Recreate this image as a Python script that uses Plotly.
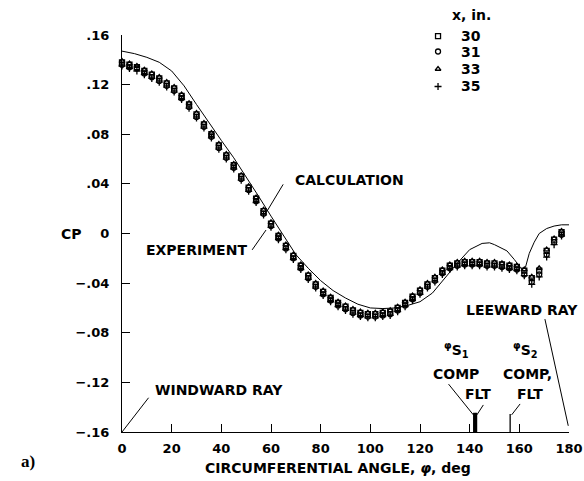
import plotly.graph_objects as go

# ---------------- data ----------------
calc_angle = [0, 5, 10, 15, 20, 25, 30, 35, 40, 45, 50, 55, 60, 65, 70, 75, 80, 85, 90, 95,
              100, 105, 110, 115, 120, 125, 130, 135, 140, 145, 148, 150, 155, 158, 161,
              162.5, 164, 166, 168, 171, 174, 177, 180]
calc_cp = [0.147, 0.145, 0.142, 0.138, 0.131, 0.119, 0.104, 0.089, 0.075, 0.061, 0.046,
           0.030, 0.014, -0.002, -0.017, -0.028, -0.038, -0.046, -0.052, -0.057,
           -0.060, -0.0605, -0.060, -0.058, -0.055, -0.048, -0.036, -0.024, -0.013,
           -0.008, -0.0075, -0.009, -0.014, -0.021, -0.029,
           -0.027, -0.016, -0.007, 0.000, 0.004, 0.006, 0.007, 0.007]

exp_angle = [0, 3, 6, 9, 12, 15, 18, 21, 24, 27, 30, 33, 36, 39, 42, 45, 48, 51, 54, 57,
             60, 63, 66, 69, 72, 75, 78, 81, 84, 87, 90, 93, 96, 99, 102, 105, 108, 111,
             114, 117, 120, 123, 126, 129, 132, 135, 138, 141, 144, 147, 150, 153, 156,
             159, 162, 165, 168, 171, 174, 177]

cp_x30 = [0.138, 0.136, 0.134, 0.131, 0.128, 0.125, 0.121, 0.117, 0.111, 0.104, 0.096,
          0.088, 0.080, 0.071, 0.063, 0.055, 0.046, 0.037, 0.028, 0.018, 0.008, -0.002,
          -0.010, -0.018, -0.026, -0.034, -0.041, -0.047, -0.052, -0.056, -0.059, -0.062,
          -0.064, -0.065, -0.065, -0.064, -0.063, -0.060, -0.056, -0.051, -0.046, -0.041,
          -0.036, -0.030, -0.026, -0.024, -0.023, -0.023, -0.023, -0.024, -0.024, -0.025,
          -0.026, -0.027, -0.030, -0.036, -0.030, -0.014, -0.005, 0.001]
cp_x31 = [0.136, 0.134, 0.133, 0.129, 0.126, 0.123, 0.119, 0.115, 0.109, 0.102, 0.094,
          0.086, 0.078, 0.069, 0.061, 0.053, 0.044, 0.035, 0.026, 0.016, 0.006, -0.004,
          -0.012, -0.020, -0.028, -0.036, -0.043, -0.049, -0.054, -0.058, -0.061, -0.064,
          -0.066, -0.067, -0.067, -0.066, -0.065, -0.062, -0.058, -0.053, -0.048, -0.043,
          -0.038, -0.032, -0.028, -0.026, -0.025, -0.025, -0.025, -0.026, -0.026, -0.027,
          -0.028, -0.029, -0.033, -0.039, -0.033, -0.017, -0.007, -0.001]
cp_x33 = [0.139, 0.137, 0.135, 0.132, 0.129, 0.126, 0.122, 0.118, 0.112, 0.105, 0.097,
          0.089, 0.081, 0.072, 0.064, 0.056, 0.047, 0.038, 0.029, 0.019, 0.009, -0.001,
          -0.009, -0.017, -0.025, -0.033, -0.040, -0.046, -0.051, -0.055, -0.058, -0.061,
          -0.063, -0.064, -0.064, -0.063, -0.062, -0.059, -0.055, -0.050, -0.045, -0.040,
          -0.035, -0.029, -0.025, -0.023, -0.022, -0.022, -0.022, -0.023, -0.023, -0.024,
          -0.025, -0.026, -0.029, -0.035, -0.028, -0.013, -0.004, 0.002]
cp_x35 = [0.135, 0.133, 0.131, 0.128, 0.125, 0.122, 0.118, 0.114, 0.108, 0.101, 0.093,
          0.085, 0.077, 0.068, 0.060, 0.052, 0.043, 0.034, 0.025, 0.015, 0.005, -0.005,
          -0.013, -0.021, -0.029, -0.037, -0.044, -0.050, -0.055, -0.059, -0.062, -0.065,
          -0.067, -0.068, -0.068, -0.067, -0.066, -0.063, -0.059, -0.054, -0.049, -0.044,
          -0.039, -0.033, -0.029, -0.027, -0.026, -0.026, -0.026, -0.027, -0.027, -0.028,
          -0.029, -0.030, -0.034, -0.041, -0.035, -0.019, -0.009, -0.002]

series_names = ["30", "31", "33", "35"]
series_symbols = ["square-open", "circle-open", "triangle-up-open", "cross-thin-open"]

sep_s1_angle = [141.8, 142.6]   # phi S1: COMP, FLT
sep_s2_angle = [156.3]          # phi S2: COMP, FLT

x_ticks = [0, 20, 40, 60, 80, 100, 120, 140, 160, 180]
y_ticks = [0.16, 0.12, 0.08, 0.04, 0, -0.04, -0.08, -0.12, -0.16]
y_ticktext = [".16", ".12", ".08", ".04", "0", "\u2212.04", "\u2212.08", "\u2212.12", "\u2212.16"]

# legend key layout (paper fractions)
key_rows_paper = [0.997, 0.9584, 0.9144, 0.8703]
key_symbol_x = 0.707
key_text_x = 0.754

# ---------------- figure ----------------
FONT = "DejaVu Sans"
fig = go.Figure()

fig.add_trace(go.Scatter(x=calc_angle, y=calc_cp, mode="lines",
                         line=dict(color="black", width=1), showlegend=False,
                         hoverinfo="skip"))

for name, vals, sym in zip(series_names, [cp_x30, cp_x31, cp_x33, cp_x35], series_symbols):
    fig.add_trace(go.Scatter(x=exp_angle, y=vals, mode="markers", name=name,
                             cliponaxis=False, showlegend=False,
                             marker=dict(symbol=sym, size=5, color="black",
                                         line=dict(color="black", width=1.3))))

for a in sep_s1_angle:
    fig.add_trace(go.Scatter(x=[a, a], y=[-0.16, -0.1445], mode="lines",
                             line=dict(color="black", width=2.2), showlegend=False))
for a in sep_s2_angle:
    fig.add_trace(go.Scatter(x=[a, a], y=[-0.16, -0.1455], mode="lines",
                             line=dict(color="black", width=1.3), showlegend=False))

# legend key symbols on an overlay axis (0..1 over the plot area)
fig.add_trace(go.Scatter(x=[key_symbol_x] * 4, y=key_rows_paper,
                         mode="markers", xaxis="x2", yaxis="y2", cliponaxis=False,
                         showlegend=False, hoverinfo="skip",
                         marker=dict(symbol=series_symbols, size=5, color="black",
                                     line=dict(color="black", width=1.3))))

# leader lines
leaders = [
    ((64.9, 0.0396), (58.1, 0.017)),      # calculation
    ((52.4, -0.0132), (58.0, 0.0028)),    # experiment
    ((0.0, -0.16), (10.7, -0.1324)),      # windward ray
    ((170.3, -0.069), (179.7, -0.155)),   # leeward ray
    ((131.5, -0.1214), (141.5, -0.1462)), # S1 comp
    ((145.5, -0.1382), (142.9, -0.1462)), # S1 flt
    ((160.3, -0.1374), (156.9, -0.1462)), # S2
]
for (x0, y0), (x1, y1) in leaders:
    fig.add_shape(type="line", x0=x0, y0=y0, x1=x1, y1=y1, xref="x", yref="y",
                  line=dict(color="black", width=1))

lab = dict(family=FONT, size=14, color="black", weight="bold")
def ann(text, x, y, xanchor="center", xref="x", yref="y", font=lab):
    fig.add_annotation(text=text, x=x, y=y, xref=xref, yref=yref, xanchor=xanchor,
                       yanchor="middle", showarrow=False, font=font)

ann("CALCULATION", 68.9, 0.0428, "left")
ann("EXPERIMENT", 51.2, -0.0132, "right")
ann("WINDWARD RAY", 12.6, -0.126, "left")
ann("LEEWARD RAY", 161.0, -0.062)
ann("<sup>\u03c6</sup>S<sub>1</sub>", 134.8, -0.094)
ann("COMP", 134.5, -0.1132)
ann("FLT", 143.4, -0.1292)
ann("<sup>\u03c6</sup>S<sub>2</sub>", 162.3, -0.094)
ann("COMP,", 163.1, -0.1132)
ann("FLT", 164.2, -0.1292)
ann("CP", -0.114, 0.5, "center", "paper", "paper")
ann("CIRCUMFERENTIAL ANGLE, <i>\u03c6</i>, deg", 0.483, -0.0907, "center", "paper", "paper")
ann("x, in.", 0.734, 1.051, "left", "paper", "paper")
for name, ky in zip(series_names, key_rows_paper):
    ann(name, key_text_x, ky, "left", "paper", "paper")
ann("a)", -0.21, -0.075, "center", "paper", "paper",
    font=dict(family="Liberation Serif", size=17, color="black", weight="bold"))

axis_common = dict(showline=True, linecolor="black", linewidth=1, ticks="inside",
                   tickcolor="black", ticklen=8, tickwidth=1, showgrid=False,
                   zeroline=False, automargin=False,
                   tickfont=dict(family=FONT, size=13, color="black", weight="bold"))

fig.update_xaxes(range=[0, 180], tickvals=x_ticks, ticklabelstandoff=4, **axis_common)
fig.update_yaxes(range=[-0.16, 0.16], tickvals=y_ticks, ticktext=y_ticktext,
                 ticklabelstandoff=9, **axis_common)

fig.update_layout(
    width=584, height=481,
    margin=dict(l=122, r=15, t=35, b=49, autoexpand=False),
    plot_bgcolor="white", paper_bgcolor="white",
    showlegend=False,
    xaxis2=dict(overlaying="x", range=[0, 1], visible=False, fixedrange=True),
    yaxis2=dict(overlaying="y", range=[0, 1], visible=False, fixedrange=True),
)

# remove the page's default 8px body margin so the figure fills the window exactly
fig.write_html("out.html", config={"displayModeBar": False},
               post_script="document.body.style.margin='0';document.body.style.overflow='hidden';")
